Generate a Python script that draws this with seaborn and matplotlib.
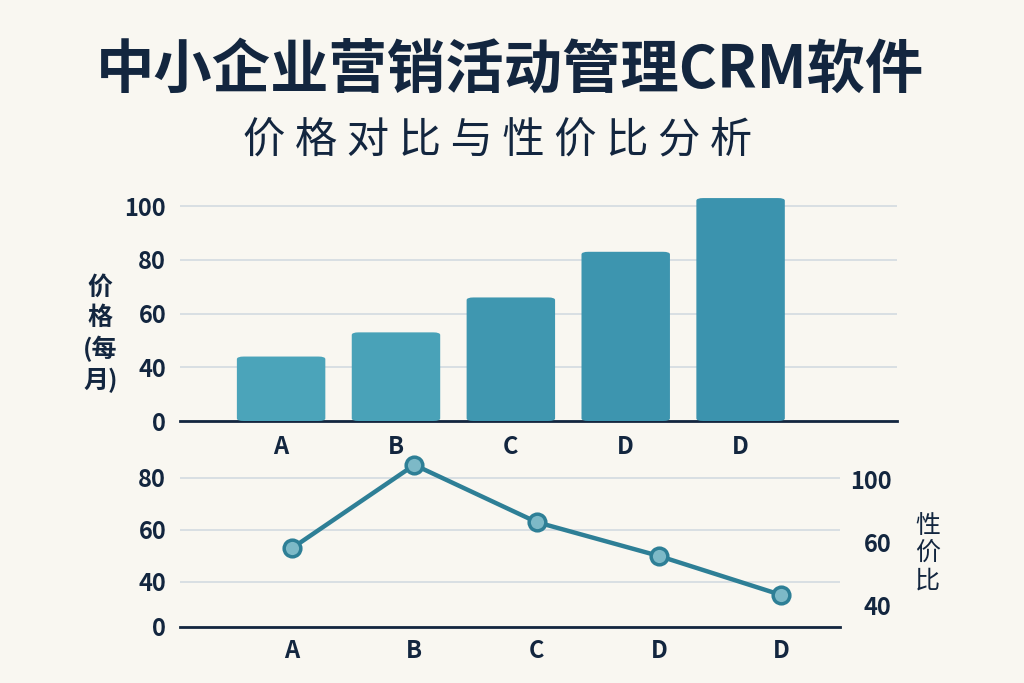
import numpy as np
import pandas as pd
import matplotlib
matplotlib.use("Agg")
import matplotlib.pyplot as plt
from matplotlib.patches import FancyBboxPatch
import seaborn as sns

# 数据
productos = ["A", "B", "C", "D", "D"]
precio = [44, 53, 66, 83, 103]              # 价格 (每月), escala del eje izq.
precio_ticks = [20, 40, 60, 80, 100]
precio_labels = ["0", "40", "60", "80", "100"]
relacion = [53, 85, 63, 50, 35]             # 性价比
rel_ticks = [22.7, 40, 60, 80]
rel_labels = ["0", "40", "60", "80"]
rel_der_ticks = [30.8, 55, 79.2]
rel_der_labels = ["40", "60", "100"]
colores_barras = ["#4BA4BA", "#49A2B8", "#3F97B0", "#3D95AF", "#3B93AE"]

bg = "#F9F7F1"
azul = "#13263F"
grilla = "#D3DBE1"
linea = "#2E7F96"

sns.set_theme(style="white")
plt.rcParams["font.family"] = ["Noto Sans CJK SC", "DejaVu Sans"]

fig = plt.figure(figsize=(10.24, 6.83), dpi=100, facecolor=bg)

# ---------- barras ----------
ax1 = fig.add_axes([0.1758, 0.3836, 0.700, 0.3382])
ax1.set_facecolor(bg)
df = pd.DataFrame({"pos": range(len(productos)), "precio": precio})
sns.barplot(data=df, x="pos", y="precio", hue="pos", palette=colores_barras,
            saturation=1, legend=False, width=0.77, ax=ax1, zorder=3)
ax1.set_xlim(-0.88, 5.36)
ax1.set_ylim(20, 106)

# esquinas redondeadas
for p in list(ax1.patches):
    x0, w = p.get_x(), p.get_width()
    y0, h = 20, p.get_height() - 20
    redondo = FancyBboxPatch((x0, y0), w, h,
                             boxstyle="round,pad=0,rounding_size=0.06",
                             mutation_aspect=16, fc=p.get_facecolor(),
                             ec="none", zorder=3)
    p.remove()
    ax1.add_patch(redondo)

ax1.set_yticks(precio_ticks)
ax1.set_yticklabels(precio_labels)
ax1.set_xticks(range(len(productos)))
ax1.set_xticklabels(productos)
ax1.grid(axis="y", color=grilla, lw=1.2, zorder=0)
ax1.set_xlabel("")
ax1.set_ylabel("")

# ---------- linea ----------
ax2 = fig.add_axes([0.1758, 0.082, 0.6445, 0.2518])
ax2.set_facecolor(bg)
df2 = pd.DataFrame({"pos": range(len(productos)), "rel": relacion})
sns.lineplot(data=df2, x="pos", y="rel", color=linea, lw=3.2, marker="o",
             markersize=12, markerfacecolor="#7DB9C7", markeredgecolor=linea,
             markeredgewidth=2.5, ax=ax2, zorder=3)
ax2.set_xlim(-0.916, 4.48)
ax2.set_ylim(22.7, 88.8)
ax2.set_yticks(rel_ticks)
ax2.set_yticklabels(rel_labels)
ax2.set_xticks(range(len(productos)))
ax2.set_xticklabels(productos)
ax2.grid(axis="y", color=grilla, lw=1.2, zorder=0)
ax2.set_xlabel("")
ax2.set_ylabel("")

ax3 = ax2.twinx()
ax3.set_ylim(22.7, 88.8)
ax3.set_yticks(rel_der_ticks)
ax3.set_yticklabels(rel_der_labels, ha="right")

for ax in [ax1, ax2, ax3]:
    for s in ["top", "left", "right"]:
        ax.spines[s].set_visible(False)
    ax.spines["bottom"].set_visible(ax is not ax3)
    ax.spines["bottom"].set_color(azul)
    ax.spines["bottom"].set_linewidth(2)
    ax.tick_params(length=0, labelsize=17, colors=azul)
    for t in ax.get_xticklabels() + ax.get_yticklabels():
        t.set_fontweight("bold")
ax1.tick_params(axis="y", pad=10)
ax1.tick_params(axis="x", pad=10)
ax2.tick_params(axis="y", pad=10)
ax2.tick_params(axis="x", pad=9)
ax3.tick_params(axis="y", pad=37)

# textos
fig.text(0.498, 0.897, "中小企业营销活动管理CRM软件", ha="center", va="center",
         fontsize=42, fontweight="bold", color=azul)
fig.text(0.486, 0.793, "价 格 对 比 与 性 价 比 分 析",
         ha="center", va="center", fontsize=30.5, fontweight="medium", color=azul)
fig.text(0.098, 0.51, "价\n格\n(每\n月)", ha="center", va="center",
         fontsize=18, fontweight="bold", color=azul, linespacing=1.3)
fig.text(0.906, 0.19, "性\n价\n比", ha="center", va="center",
         fontsize=18, color=azul, linespacing=1.05)

fig.savefig("out.png", dpi=100, facecolor=bg)
